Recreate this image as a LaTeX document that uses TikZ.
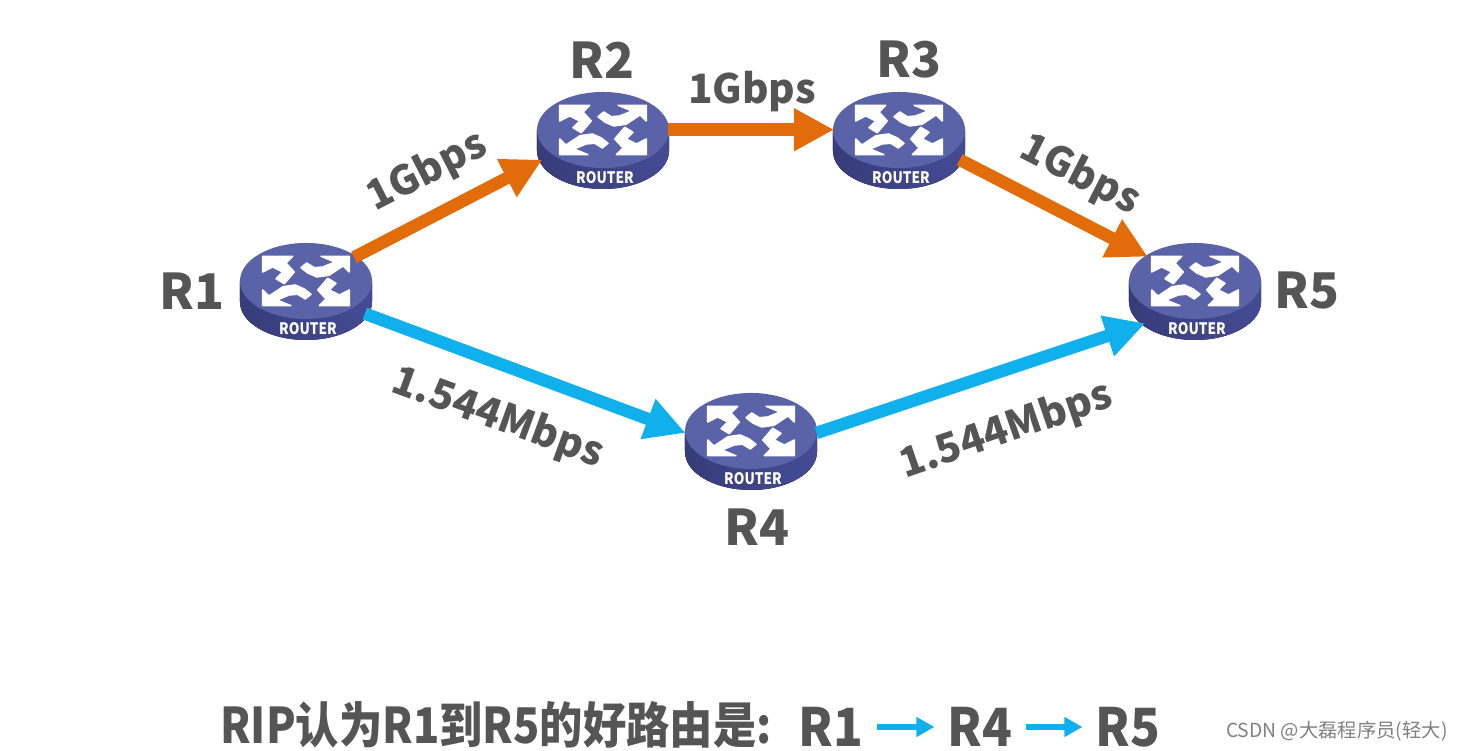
\documentclass[tikz,border=0pt]{standalone}
\usepackage{fontspec}
\setmainfont{Noto Sans CJK SC}
\usetikzlibrary{arrows.meta,positioning,shapes.geometric}
\definecolor{routertop}{HTML}{5A62A8}
\definecolor{routerside}{HTML}{40468F}
\definecolor{labelgray}{HTML}{555555}
\definecolor{pathorange}{HTML}{E36C0A}
\definecolor{pathblue}{HTML}{0FB0EC}
\tikzset{
  routernode/.style={ellipse, minimum width=2.64cm, minimum height=1.94cm, inner sep=0pt},
  routername/.style={text=labelgray, font=\bfseries\fontsize{28}{28}\selectfont, inner sep=0pt},
  pathname/.style={text=labelgray, font=\bfseries\fontsize{30}{30}\selectfont, xscale=0.93, inner sep=0pt},
  ratelabel/.style={text=labelgray, font=\bfseries\fontsize{23}{23}\selectfont, inner sep=0pt},
  fastlink/.style={draw=pathorange, line width=0.25cm, -{Triangle[length=0.8cm,width=0.8cm]}},
  slowlink/.style={draw=pathblue, line width=0.25cm, -{Triangle[length=0.8cm,width=0.8cm]}},
  smalllink/.style={draw=pathblue, line width=0.12cm, -{Triangle[length=0.36cm,width=0.38cm]}, shorten >=0.26cm, shorten <=0.26cm},
  routerarrow/.pic={
    \filldraw[white, line width=0.03cm, line join=round] (-43.3,24.7) -- (-13.3,24.7) -- (-20,18) -- (-11.7,9) -- (-21.7,-2.7) -- (-30,2.3)
      -- (-23.3,9) -- (-33.3,14) -- (-43.3,9) -- cycle;
    \filldraw[white, line width=0.03cm, line join=round] (43.3,24.7) -- (43.3,9) -- (37,15) -- (23,5.7) -- (10.7,4) -- (1.7,8) -- (-5,13.3)
      -- (0.7,18) -- (8.3,13.3) -- (16.7,14) -- (29,19) -- (15,24.7) -- cycle;
  },
  routerpic/.pic={
    \begin{scope}[x=0.02cm,y=0.02cm]
      \fill[left color=routerside!85!black, right color=routerside!80!routertop]
        (-66,10) -- (-66,-11) arc[start angle=180, end angle=360, x radius=66, y radius=38] -- (66,10) -- cycle;
      \fill[routertop] (0,10) ellipse[x radius=66, y radius=38];
      \pic[shift={(0,10)}] {routerarrow};
      \pic[shift={(0,10)}, rotate=180] {routerarrow};
    \end{scope}
    \node[text=white, font=\bfseries\fontsize{9}{9}\selectfont, xscale=0.86, inner sep=0pt] at (0.04,-0.76) {ROUTER};
  }
}
\begin{document}
\begin{tikzpicture}
  \useasboundingbox (0,0) rectangle (29.26,15.02);
  % routers
  \node[routernode] (r1) at (6.12,9.2) {};
  \node[routernode] (r2) at (12.06,12.22) {};
  \node[routernode] (r3) at (17.98,12.22) {};
  \node[routernode] (r4) at (15.02,6.2) {};
  \node[routernode] (r5) at (23.9,9.2) {};
  \foreach \n in {r1,r2,r3,r4,r5}
    \pic at (\n) {routerpic};
  % names
  \node[routername] (namer1) at (3.84,9.2) {R1};
  \node[routername] (namer2) at (12.04,13.82) {R2};
  \node[routername] (namer3) at (18.18,13.82) {R3};
  \node[routername] (namer4) at (15.14,4.48) {R4};
  \node[routername] (namer5) at (26.14,9.2) {R5};
  % links
  \draw[fastlink] (r1.35) -- (r2.198);
  \draw[fastlink] (r2.9) -- (r3.171);
  \draw[fastlink] (r3.-18) -- (r5.144);
  \draw[slowlink] (r1.-21) -- (r4.173);
  \draw[slowlink] (r4.7) -- (r5.213);
  \node[ratelabel, rotate=27] (rate12) at (8.54,11.58) {1Gbps};
  \node[ratelabel] (rate23) at (15.04,13.18) {1Gbps};
  \node[ratelabel, rotate=-27] (rate35) at (21.6,11.52) {1Gbps};
  \node[ratelabel, rotate=-20] (rate14) at (9.96,6.66) {1.544Mbps};
  \node[ratelabel, rotate=19] (rate45) at (20.12,6.4) {1.544Mbps};
  % bottom line
  \node[routername, anchor=west, xscale=0.88, font=\bfseries\fontsize{28}{28}\selectfont] (rule) at (4.4,0.52) {RIP认为R1到R5的好路由是:};
  \node[pathname] (pathr1) at (16.62,0.48) {R1};
  \node[pathname] (pathr4) at (19.6,0.48) {R4};
  \node[pathname] (pathr5) at (22.56,0.48) {R5};
  \draw[smalllink] (pathr1) -- (pathr4);
  \draw[smalllink] (pathr4) -- (pathr5);
  \node[anchor=east, text=gray, inner sep=0pt, font=\fontsize{11}{11}\selectfont] (mark) at (28.96,0.4) {CSDN @大磊程序员(轻大)};
\end{tikzpicture}
\end{document}
